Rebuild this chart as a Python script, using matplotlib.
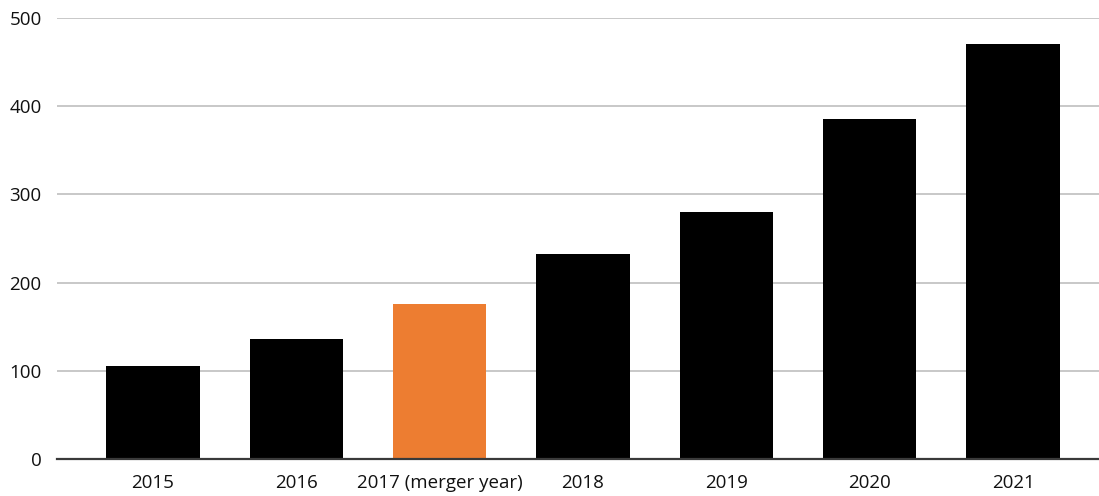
import matplotlib
matplotlib.use("Agg")
import matplotlib.pyplot as plt

categories = ["2015", "2016", "2017 (merger year)", "2018", "2019", "2020", "2021"]
values = [106, 136, 176, 232, 280, 386, 470]
bar_colors = ["#000000", "#000000", "#ED7D31", "#000000", "#000000", "#000000", "#000000"]
y_ticks = [0, 100, 200, 300, 400, 500]

plt.rcParams["font.family"] = ["Open Sans", "DejaVu Sans"]

fig = plt.figure(figsize=(10.99, 4.96), dpi=100)
ax = fig.add_axes([57 / 1099, (496 - 459) / 496, 1 - 57 / 1099, (459 - 18) / 496])

x = range(len(categories))
ax.bar(x, values, width=0.65, color=bar_colors, zorder=3)

ax.set_ylim(0, 500)
ax.set_xlim(-0.67, 6.6)
ax.set_yticks(y_ticks)
ax.set_yticklabels([str(t) for t in y_ticks])
ax.set_xticks(list(x))
ax.set_xticklabels(categories)

ax.grid(axis="y", color="#C8C8C8", linewidth=1.4, zorder=0)
for s in ["top", "right", "left"]:
    ax.spines[s].set_visible(False)
ax.spines["bottom"].set_color("#3A3A3A")
ax.spines["bottom"].set_linewidth(1.6)
ax.spines["bottom"].set_zorder(4)

ax.tick_params(axis="both", length=0, labelsize=13.5, colors="#111111")
ax.tick_params(axis="y", pad=11)
ax.tick_params(axis="x", pad=11)

fig.savefig("out.png", dpi=100)
